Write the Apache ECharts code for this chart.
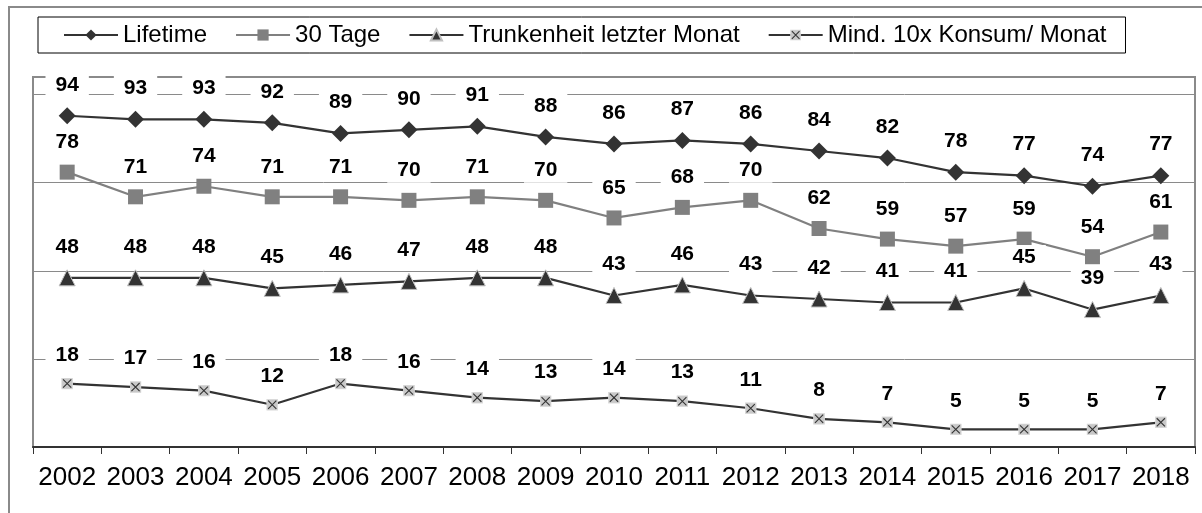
<!DOCTYPE html>
<html>
<head>
<meta charset="utf-8">
<script src="https://cdn.jsdelivr.net/npm/echarts@6/dist/echarts.min.js"></script>
<style type="text/css">
    html, body{
        margin:0;
        padding:0;
        background:#fff;
    }
    #chart{
        width:1202px;
        height:513px;
    }
</style>
</head>
<body>
<div id="chart"></div>
<script type="text/javascript">
    // Jahre und Werte (in %)
    var years = ['2002','2003','2004','2005','2006','2007','2008','2009','2010','2011','2012','2013','2014','2015','2016','2017','2018'];
    var lifetime = [94, 93, 93, 92, 89, 90, 91, 88, 86, 87, 86, 84, 82, 78, 77, 74, 77];
    var tage30 = [78, 71, 74, 71, 71, 70, 71, 70, 65, 68, 70, 62, 59, 57, 59, 54, 61];
    var trunkenheit = [48, 48, 48, 45, 46, 47, 48, 48, 43, 46, 43, 42, 41, 41, 45, 39, 43];
    var konsum10x = [18, 17, 16, 12, 18, 16, 14, 13, 14, 13, 11, 8, 7, 5, 5, 5, 7];

    var FONT = 'Liberation Sans, Arial, sans-serif';

    // grau hinterlegtes Kästchen mit Kreuz (Excel-Marker)
    var crossBox = 'image://data:image/svg+xml;charset=utf-8,' + encodeURIComponent(
        '<svg xmlns="http://www.w3.org/2000/svg" width="22" height="22" viewBox="0 0 22 22">' +
        '<rect x="1" y="1" width="20" height="20" fill="#c8c8c8" stroke="#dadada" stroke-width="1.5"/>' +
        '<path d="M3.5 3.5L18.5 18.5M18.5 3.5L3.5 18.5" stroke="#333" stroke-width="2"/></svg>');

    var valueLabel = {
        show: true,
        position: 'top',
        distance: 10,
        color: '#000',
        fontFamily: FONT,
        fontWeight: 'bold',
        fontSize: 21,
        backgroundColor: '#fff',
        padding: [2, 10]
    };

    function buildSeries(name, data, lineColor, symbol, symbolSize, markColor, markBorder){
        return {
            name: name,
            type: 'line',
            data: data,
            symbol: symbol,
            symbolSize: symbolSize,
            lineStyle: { color: lineColor, width: 2.2 },
            itemStyle: { color: markColor, borderColor: markBorder, borderWidth: markBorder ? 1 : 0 },
            label: valueLabel,
            emphasis: { disabled: true },
            animation: false
        };
    }

    var chart = echarts.init(document.getElementById('chart'));
    chart.setOption({
        backgroundColor: '#fff',
        animation: false,
        graphic: [{
            type: 'rect',
            silent: true,
            shape: { x: 9, y: 7, width: 1220, height: 530 },
            style: { fill: 'none', stroke: '#8a8a8a', lineWidth: 2 }
        }],
        legend: {
            left: 38,
            top: 17,
            padding: [6, 19, 6, 25],
            itemGap: 28,
            itemWidth: 54,
            itemHeight: 14,
            borderColor: '#000',
            borderWidth: 1,
            textStyle: { fontFamily: FONT, fontSize: 24, color: '#000' },
            data: ['Lifetime', '30 Tage', 'Trunkenheit letzter Monat', 'Mind. 10x Konsum/ Monat']
        },
        grid: {
            left: 33,
            right: 7,
            top: 77,
            bottom: 66,
            show: true,
            borderColor: '#8a8a8a',
            borderWidth: 2
        },
        xAxis: {
            type: 'category',
            data: years,
            boundaryGap: true,
            axisLine: { lineStyle: { color: '#333', width: 2 } },
            axisTick: { show: true, interval: 0, length: 7, lineStyle: { color: '#333', width: 1 } },
            axisLabel: { interval: 0, color: '#000', fontFamily: FONT, fontSize: 26, margin: 18 }
        },
        yAxis: {
            type: 'value',
            min: 0,
            max: 105,
            interval: 25,
            axisLine: { show: false },
            axisTick: { show: false },
            axisLabel: { show: false },
            splitLine: { lineStyle: { color: '#8a8a8a', width: 1 } }
        },
        series: [
            buildSeries('Lifetime', lifetime, '#333', 'diamond', 17, '#333'),
            buildSeries('30 Tage', tage30, '#808080', 'rect', 15, '#808080'),
            buildSeries('Trunkenheit letzter Monat', trunkenheit, '#333', 'triangle', 16, '#333', '#c0c0c0'),
            buildSeries('Mind. 10x Konsum/ Monat', konsum10x, '#333', crossBox, 12, '#c8c8c8')
        ]
    });
    window.onresize = chart.resize;
</script>
</body>
</html>
